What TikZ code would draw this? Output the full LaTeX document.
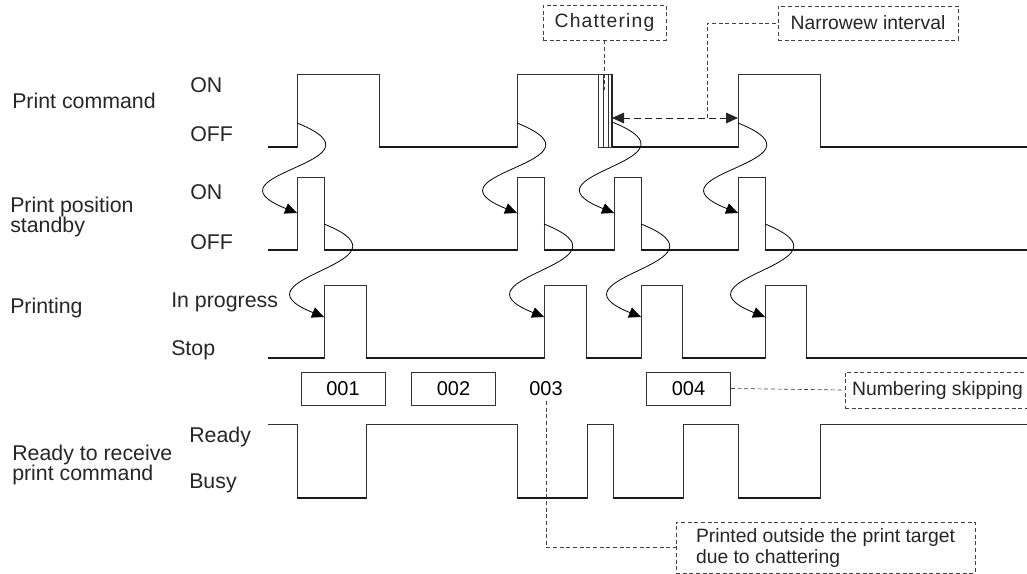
\documentclass[tikz,border=0pt]{standalone}
\usepackage{fontspec}
\setmainfont{Liberation Sans}
\newfontfamily\spacedfont[LetterSpace=6]{Liberation Sans}
\usetikzlibrary{arrows.meta}
\begin{document}
\begin{tikzpicture}[x=0.75pt,y=-0.75pt,
  sig/.style={line width=0.7pt, black!80, line join=miter},
  low/.style={line width=1.6pt, black!90},
  chat/.style={line width=0.5pt, black!80},
  cause/.style={line width=0.6pt, black, -{Triangle[length=9pt,width=8pt]}},
  lbl/.style={font=\fontsize{16}{17}\selectfont, inner sep=0pt, anchor=base west, text=black!85},
  numbox/.style={draw=black!80, line width=0.6pt, inner sep=0pt, minimum width=63pt, minimum height=24.75pt, font=\fontsize{15}{16}\selectfont},
  numtxt/.style={inner sep=0pt, font=\fontsize{15}{16}\selectfont},
  callout/.style={draw=black!75, densely dashed, line width=0.5pt, text=black!85, inner sep=0pt, font=\fontsize{14.5}{15.75}\selectfont, align=left},
  lead/.style={densely dashed, line width=0.5pt, black!75}
]
\useasboundingbox (0,0) rectangle (1027,574);

% ---------- row labels ----------
\node[lbl] (pc) at (12,109) {Print command};
\node[lbl] (pcon) at (190,93) {ON};
\node[lbl] (pcoff) at (190,142) {OFF};
\node[lbl] (ppa) at (10,212) {Print position};
\node[lbl] (ppb) at (10,232) {standby};
\node[lbl] (ppon) at (190,199) {ON};
\node[lbl] (ppoff) at (190,249) {OFF};
\node[lbl] (pr) at (10,313) {Printing};
\node[lbl] (prin) at (171,307) {In progress};
\node[lbl] (prst) at (171,355) {Stop};
\node[lbl] (rda) at (12,460) {Ready to receive};
\node[lbl] (rdb) at (12,480) {print command};
\node[lbl] (rdr) at (189,442) {Ready};
\node[lbl] (rdbz) at (189,488) {Busy};

% ---------- Print command ----------
\draw[sig] (268,147) -- (297,147) -- (297,74) -- (379,74) -- (379,147) -- (517,147) -- (517,74) -- (612,74) -- (612,147)
  -- (738,147) -- (738,74) -- (820,74) -- (820,147) -- (1027,147);
\draw[chat] (598,74) -- (598,147) -- (612,147);
\draw[chat] (603,74) -- (603,147);
\draw[chat] (608,74) -- (608,147);
\draw[line width=1pt, black!85] (612,74) -- (612,147);
\draw[low] (268,147) -- (297,147);
\draw[low] (379,147) -- (517,147);
\draw[low] (612,147) -- (738,147);
\draw[low] (820,147) -- (1027,147);

% ---------- Print position standby ----------
\draw[sig] (268,250) -- (297,250) -- (297,177) -- (324,177) -- (324,250) -- (517,250) -- (517,177) -- (544,177) -- (544,250)
  -- (614,250) -- (614,177) -- (641,177) -- (641,250) -- (738,250) -- (738,177) -- (765,177) -- (765,250) -- (1027,250);
\draw[low] (268,250) -- (297,250);
\draw[low] (324,250) -- (517,250);
\draw[low] (544,250) -- (614,250);
\draw[low] (641,250) -- (738,250);
\draw[low] (765,250) -- (1027,250);

% ---------- Printing ----------
\draw[sig] (268,358) -- (324,358) -- (324,285) -- (366,285) -- (366,358) -- (544,358) -- (544,285) -- (586,285) -- (586,358)
  -- (641,358) -- (641,285) -- (682,285) -- (682,358) -- (765,358) -- (765,285) -- (806,285) -- (806,358) -- (1027,358);
\draw[low] (268,358) -- (324,358);
\draw[low] (366,358) -- (544,358);
\draw[low] (586,358) -- (641,358);
\draw[low] (682,358) -- (765,358);
\draw[low] (806,358) -- (1027,358);

% ---------- Ready to receive ----------
\draw[sig] (268,424) -- (297,424) -- (297,498) -- (366,498) -- (366,424) -- (517,424) -- (517,498) -- (587,498) -- (587,424)
  -- (613,424) -- (613,498) -- (683,498) -- (683,424) -- (738,424) -- (738,498) -- (820,498) -- (820,424) -- (1027,424);
\draw[low] (297,498) -- (366,498);
\draw[low] (517,498) -- (587,498);
\draw[low] (613,498) -- (683,498);
\draw[low] (738,498) -- (820,498);

% ---------- edge coordinates ----------
\coordinate (c1) at (297,123); \coordinate (s1) at (297,213);
\coordinate (s1f) at (324,224); \coordinate (p1) at (324,317);
\coordinate (c2) at (517,123); \coordinate (s2) at (517,213);
\coordinate (s2f) at (544,224); \coordinate (p2) at (544,317);
\coordinate (c3) at (612,122); \coordinate (s3) at (614,213);
\coordinate (s3f) at (641,224); \coordinate (p3) at (641,317);
\coordinate (c4) at (738,123); \coordinate (s4) at (738,213);
\coordinate (s4f) at (765,224); \coordinate (p4) at (765,317);

% ---------- cause arrows ----------
\foreach \a/\b in {c1/s1, s1f/p1, c2/s2, s2f/p2, c3/s3, s3f/p3, c4/s4, s4f/p4}
  \draw[cause] (\a) .. controls +(100,40) and +(-100,-40) .. (\b);

% ---------- narrow interval ----------
\coordinate (na) at (612,118);
\coordinate (nb) at (738,118);
\coordinate (nm) at (707,118);
\draw[line width=0.7pt, black!85, dash pattern=on 5pt off 3pt,
  {Triangle[length=9pt,width=8pt]}-{Triangle[length=9pt,width=8pt]}] (na) -- (nb);

% ---------- callouts ----------
\node[callout, minimum width=92.25pt, minimum height=26.25pt] (chatbox) at (604.5,22.5) {\spacedfont Chattering};
\node[callout, minimum width=135pt, minimum height=25.5pt] (narrow) at (868,23) {Narrowew interval};
\coordinate (chatpt) at (604.5,90);
\draw[lead] (chatbox.south) -- (chatpt);
\draw[lead] (nm) |- (narrow.west);

% ---------- numbering ----------
\node[numbox] (n1) at (343,388.5) {001};
\node[numbox] (n2) at (453.5,388.5) {002};
\node[numtxt] (n3) at (546,388.5) {003};
\node[numbox] (n4) at (688.5,388.5) {004};
\coordinate (n3b) at (546,401);

\node[callout, minimum width=138.75pt, minimum height=27pt] (numskip) at (937.5,390) {Numbering skipping};
\draw[lead] (n4.east) -- (numskip.west);

\node[callout, minimum width=224.25pt, minimum height=38.25pt] (printed) at (825.5,547.5)
  {Printed outside the print target\\due to chattering};
\draw[lead] (n3b) |- (printed.west);

\end{tikzpicture}
\end{document}
